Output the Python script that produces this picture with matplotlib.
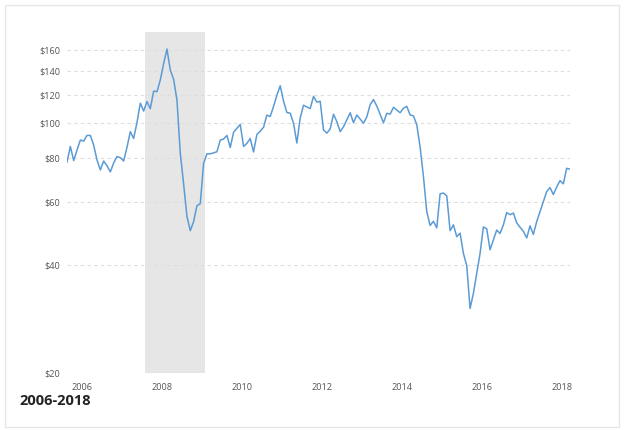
"""
Crude oil price 2006-2018 (log scale) with the recession shaded.
"""

import numpy as np
import matplotlib.pyplot as plt
from matplotlib.ticker import FixedLocator, NullLocator
from matplotlib.patches import Rectangle

START_YEAR = 2006

# monthly prices, Jan 2006 onwards
prices = [
    77.8, 86.0, 78.5, 84.0, 89.6, 89.0, 92.3, 92.3, 86.7, 78.8, 73.9, 78.3,
    75.9, 73.0, 77.3, 80.6, 80.0, 78.3, 85.5, 94.6, 90.5, 100.3, 113.6, 108.0,
    114.8, 109.6, 122.8, 122.3, 131.9, 146.5, 161.0, 140.7, 132.5, 116.0, 82.3, 67.6,
    54.8, 50.0, 53.0, 58.7, 59.5, 77.1, 82.0, 82.0, 82.5, 83.1, 89.6, 90.2,
    92.3, 85.4, 94.2, 96.6, 99.1, 86.0, 87.7, 90.5, 83.0, 92.9, 94.8, 97.3,
    105.2, 104.3, 111.2, 119.6, 127.1, 115.1, 107.0, 106.5, 99.8, 87.9, 103.3, 112.1,
    110.9, 109.7, 118.7, 114.4, 115.0, 95.6, 93.7, 96.2, 105.8, 100.9, 94.6, 97.6,
    102.0, 106.8, 100.2, 105.3, 102.6, 99.9, 104.0, 112.5, 116.3, 111.5, 105.6, 100.2,
    106.4, 105.9, 110.6, 108.7, 106.8, 110.0, 111.3, 105.3, 104.7, 98.9, 85.7, 70.8,
    56.5, 51.7, 53.1, 50.9, 63.4, 63.7, 62.6, 50.0, 51.9, 48.1, 49.2, 43.2,
    39.9, 30.3, 33.4, 38.0, 43.2, 51.2, 50.6, 44.2, 47.1, 50.2, 49.1, 51.9,
    56.2, 55.4, 56.0, 52.6, 51.1, 49.8, 47.7, 51.6, 48.8, 53.0, 56.5, 60.2,
    64.3, 66.0, 63.1, 66.2, 69.0, 67.6, 74.7, 74.3,
]

recession = (2007.95, 2009.44)

y_ticks = [20, 40, 60, 80, 100, 120, 140, 160]
y_labels = ['$20', '$40', '$60', '$80', '$100', '$120', '$140', '$160']
x_years = [2006, 2008, 2010, 2012, 2014, 2016, 2018]

LINE_COLOR = '#5b9bd5'
SHADE_COLOR = '#e6e6e6'
TEXT_COLOR = '#555555'


def main():
    plt.rcParams['font.family'] = ['Open Sans', 'DejaVu Sans']

    fig = plt.figure(figsize=(6.27, 4.30), dpi=100)
    fig.patches.append(Rectangle((5 / 627, 3 / 430), 614 / 627, 422 / 430,
                                 transform=fig.transFigure, fill=False,
                                 edgecolor='#e6e6e6', linewidth=1.0))

    ax = fig.add_axes([0.1069, 0.1326, 0.8022, 0.7937])

    t = START_YEAR + np.arange(len(prices)) / 12.0

    ax.axvspan(recession[0], recession[1], color=SHADE_COLOR, lw=0, zorder=0)
    ax.plot(t, prices, color=LINE_COLOR, lw=1.1, zorder=3)

    ax.set_yscale('log')
    ax.set_ylim(20, 180)
    ax.set_xlim(t[0], t[-1])

    ax.yaxis.set_major_locator(FixedLocator(y_ticks))
    ax.yaxis.set_minor_locator(NullLocator())
    ax.set_yticklabels(y_labels)
    # year labels sit a bit right of january in the original
    ax.set_xticks([y + 0.38 for y in x_years])
    ax.set_xticklabels([str(y) for y in x_years])

    for v in y_ticks:
        ax.axhline(v, color='#dddddd', lw=0.8, ls=(0, (3, 3)), zorder=1)

    for s in ax.spines.values():
        s.set_visible(False)
    ax.tick_params(length=0, labelsize=6.6, colors=TEXT_COLOR)
    ax.tick_params(axis='y', pad=5)
    ax.tick_params(axis='x', pad=7)

    fig.text(19 / 627, 1 - 401 / 430, '2006-2018', fontsize=10.5,
             fontweight='bold', color='#222222', va='center', ha='left')

    fig.savefig('out.png', dpi=100, facecolor='white')


if __name__ == '__main__':
    main()
